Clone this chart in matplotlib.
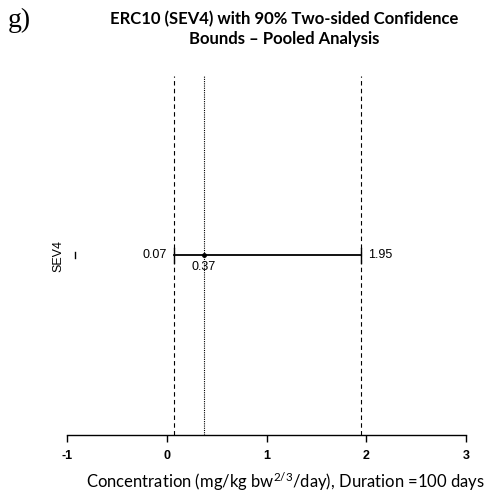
import matplotlib
matplotlib.use("Agg")
import matplotlib.pyplot as plt

categories = ["SEV4"]
estimate = [0.37]
lower = [0.07]
upper = [1.95]
xticks = [-1, 0, 1, 2, 3]

plt.rcParams['mathtext.fontset'] = 'custom'
plt.rcParams['mathtext.rm'] = 'Lato'
plt.rcParams['mathtext.it'] = 'Lato:italic'

fig = plt.figure(figsize=(4.88, 4.98), dpi=100)
ax = fig.add_axes([67/488, 1-435/498, (466-67)/488, (435-76)/498])
ax.set_xlim(-1, 3)
ax.set_ylim(0, 2)
ypos = [1]

for lo, est, hi in zip(lower, estimate, upper):
    ax.axvline(lo, color='black', lw=0.8, ls=(0, (4, 3)))
    ax.axvline(hi, color='black', lw=0.8, ls=(0, (4, 3)))
    ax.axvline(est, color='black', lw=0.8, ls=(0, (1, 1)))

for y, lo, est, hi in zip(ypos, lower, estimate, upper):
    ax.plot([lo, hi], [y, y], color='black', lw=1.3)
    ax.plot([lo, lo], [y-0.04, y+0.04], color='black', lw=1.0)
    ax.plot([hi, hi], [y-0.04, y+0.04], color='black', lw=1.0)
    ax.plot([est], [y], 'o', color='black', ms=2.5)
    ax.annotate(f"{lo:.2f}", (lo, y), xytext=(-5, 0), textcoords='offset points',
                ha='right', va='center', fontsize=9, family='Liberation Sans')
    ax.annotate(f"{hi:.2f}", (hi, y), xytext=(5, 0), textcoords='offset points',
                ha='left', va='center', fontsize=9, family='Liberation Sans')
    ax.annotate(f"{est:.2f}", (est, y), xytext=(0, -4), textcoords='offset points',
                ha='center', va='top', fontsize=9, family='Liberation Sans')

for s in ['top', 'right', 'left']:
    ax.spines[s].set_visible(False)
ax.spines['bottom'].set_bounds(xticks[0], xticks[-1])
ax.spines['bottom'].set_linewidth(1.0)
ax.set_xticks(xticks)
ax.set_xticklabels([str(t) for t in xticks], fontsize=9, family='Liberation Sans', fontweight='bold')
ax.tick_params(axis='x', direction='out', length=5, width=1.0, pad=6)
ax.set_yticks(ypos)
ax.set_yticklabels(categories, rotation=90, va='center', fontsize=9, family='Liberation Sans')
ax.tick_params(axis='y', direction='out', length=0, width=0.8, pad=2)
# small R-style y-axis mark for the single category
ax.plot([0.02, 0.02], [0.492, 0.51], transform=ax.transAxes, color='black', lw=1.0, clip_on=False)

fig.text(284/488, 1-29/498, "ERC10 (SEV4) with 90% Two-sided Confidence\nBounds \u2013 Pooled Analysis",
         ha='center', va='center', fontsize=12, fontweight='bold', family='Lato', linespacing=1.35)
fig.text(8/488, 1-20/498, "g)", ha='left', va='center', fontsize=20, family='Liberation Serif')
fig.text(286/488, 1-482/498, "Concentration (mg/kg bw$^{2/3}$/day), Duration =100 days",
         ha='center', va='center', fontsize=12, family='Lato')

fig.savefig("out.png", dpi=100)
